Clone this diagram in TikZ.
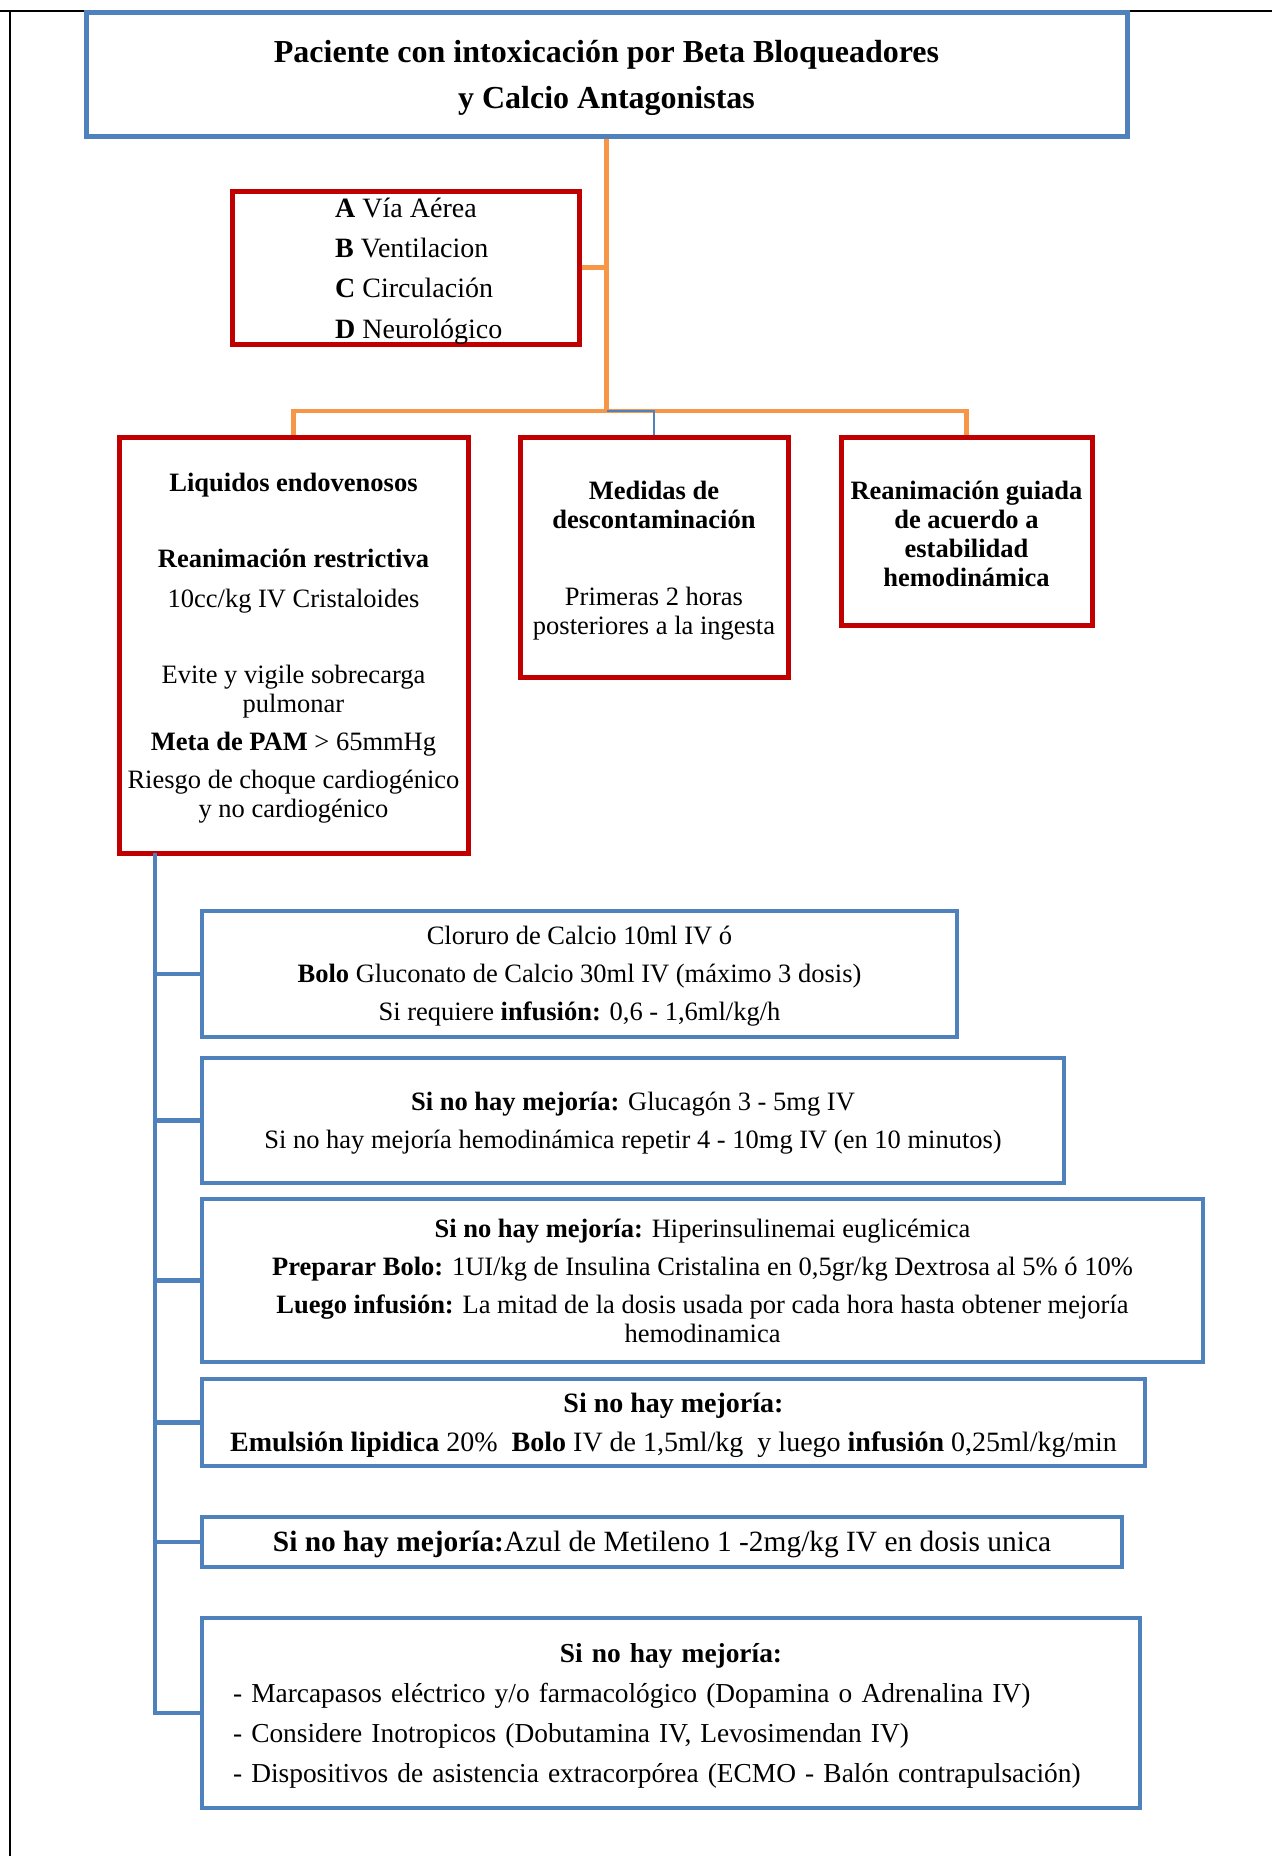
\documentclass[tikz,border=0pt]{standalone}
\usepackage{fontspec}
\setmainfont{Liberation Serif}
\definecolor{boxblue}{RGB}{79,129,189}
\definecolor{boxred}{RGB}{192,0,0}
\definecolor{linkorange}{RGB}{247,150,70}
\tikzset{
  % boxes of the chart and the text set in them
  redbox/.style={draw=boxred,line width=5pt,inner sep=0pt},
  bluebox/.style={draw=boxblue,line width=4.5pt,inner sep=0pt},
  boxtext/.style={inner sep=0pt,align=center,font=\fontsize{26.5}{29}\selectfont},
  % connectors
  orangelink/.style={draw=linkorange,line width=4.5pt},
  bluelink/.style={draw=boxblue,line width=4.5pt},
}

\begin{document}
\begin{tikzpicture}[x=1pt,y=-1pt]
\useasboundingbox (0,0) rectangle (1272,1856);
\draw[line width=2pt] (0,11) -- (1272,11);
\draw[line width=2pt] (10,11) -- (10,1856);

\node[bluebox,line width=5pt,minimum width=1041pt,minimum height=124pt] (title) at (606.5,74) {};
\node[boxtext,font=\bfseries\fontsize{32}{46}\selectfont] (titletext) at ([yshift=-3.5pt]title.center)
  {Paciente con intoxicación por Beta Bloqueadores\\y Calcio Antagonistas};

\node[redbox,minimum width=347pt,minimum height=153pt] (abcd) at (405.5,267.5) {};
\node[boxtext,align=left,anchor=west,font=\fontsize{28}{40.4}\selectfont] (abcdtext) at (335,271)
  {\textbf{A} Vía Aérea\\\textbf{B} Ventilacion\\\textbf{C} Circulación\\\textbf{D} Neurológico};

\node[redbox,minimum width=349pt,minimum height=416pt] (liq) at (293.5,645) {};
\node[boxtext] (liqtext) at ([yshift=-3.5pt]liq.center)
  {\textbf{Liquidos endovenosos}\\[47pt]\textbf{Reanimación restrictiva}\\[11pt]10cc/kg IV Cristaloides\\[47pt]Evite y vigile sobrecarga\\pulmonar\\[9pt]\textbf{Meta de PAM} > 65mmHg\\[9pt]Riesgo de choque cardiogénico\\y no cardiogénico};
\node[redbox,minimum width=268pt,minimum height=240pt] (desc) at (654,557) {};
\node[boxtext] (desctext) at ([yshift=-3.5pt]desc.center)
  {\textbf{Medidas de}\\\textbf{descontaminación}\\[48pt]Primeras 2 horas\\posteriores a la ingesta};
\node[redbox,minimum width=251pt,minimum height=188pt] (reanim) at (966.5,531) {};
\node[boxtext,font=\bfseries\fontsize{26.5}{29}\selectfont] (reanimtext) at ([yshift=-2.5pt]reanim.center)
  {Reanimación guiada\\de acuerdo a\\estabilidad\\hemodinámica};

\node[bluebox,minimum width=755pt,minimum height=126pt] (calcio) at (579.5,974) {};
\node[boxtext] (calciotext) at ([yshift=-2.5pt]calcio.center)
  {Cloruro de Calcio 10ml IV ó\\[9pt]\textbf{Bolo} Gluconato de Calcio 30ml IV (máximo 3 dosis)\\[9pt]Si requiere \textbf{infusión:} 0,6 - 1,6ml/kg/h};
\node[bluebox,minimum width=862pt,minimum height=125pt] (gluca) at (633,1120.5) {};
\node[boxtext] (glucatext) at ([yshift=-2.5pt]gluca.center)
  {\textbf{Si no hay mejoría:} Glucagón 3 - 5mg IV\\[9pt]Si no hay mejoría hemodinámica repetir 4 - 10mg IV (en 10 minutos)};
\node[bluebox,minimum width=1001pt,minimum height=163pt] (insul) at (702.5,1280.5) {};
\node[boxtext] (insultext) at (insul.center)
  {\textbf{Si no hay mejoría:} Hiperinsulinemai euglicémica\\[9pt]\textbf{Preparar Bolo:} 1UI/kg de Insulina Cristalina en 0,5gr/kg Dextrosa al 5\% ó 10\%\\[9pt]\textbf{Luego infusión:} La mitad de la dosis usada por cada hora hasta obtener mejoría\\hemodinamica};
\node[bluebox,minimum width=943pt,minimum height=87pt] (lipid) at (673.5,1422.5) {};
\node[boxtext,font=\fontsize{28}{39}\selectfont] (lipidtext) at ([yshift=-2.5pt]lipid.center)
  {\textbf{Si no hay mejoría:}\\\textbf{Emulsión lipidica} 20\%~ \textbf{Bolo} IV de 1,5ml/kg~ y luego \textbf{infusión} 0,25ml/kg/min};
\node[bluebox,minimum width=920pt,minimum height=50pt] (azul) at (662,1542) {};
\node[boxtext,font=\fontsize{29.4}{33}\selectfont] (azultext) at ([yshift=-2.5pt]azul.center)
  {\textbf{Si no hay mejoría:}Azul de Metileno 1 -2mg/kg IV en dosis unica};
\node[bluebox,minimum width=938pt,minimum height=190pt] (final) at (671,1713) {};
\node[boxtext,text width=876pt,align=left,font=\fontsize{27.4}{40}\selectfont] (finaltext) at ([yshift=-2.5pt]final.center)
  {\hbox to\hsize{\hss\textbf{Si no hay mejoría:}\hss}\\- Marcapasos eléctrico y/o farmacológico (Dopamina o Adrenalina IV)\\- Considere Inotropicos (Dobutamina IV, Levosimendan IV)\\- Dispositivos de asistencia extracorpórea (ECMO - Balón contrapulsación)};

% connectors
\coordinate (bus) at (title.south |- 0,411);
\draw[orangelink] (title.south) -- (bus);
\draw[orangelink] (abcd.east) -- (abcd.east -| bus);
\draw[orangelink] (liq.north) |- (bus) -| (reanim.north);
\draw[draw=boxblue,line width=1.5pt] (bus) -| (desc.north);
\coordinate (trunk) at (155,853);
\draw[bluelink] (trunk) |- (final.west);
\foreach \b in {calcio,gluca,insul,lipid,azul}
  \draw[bluelink] (trunk |- \b.west) -- (\b.west);
\end{tikzpicture}
\end{document}
